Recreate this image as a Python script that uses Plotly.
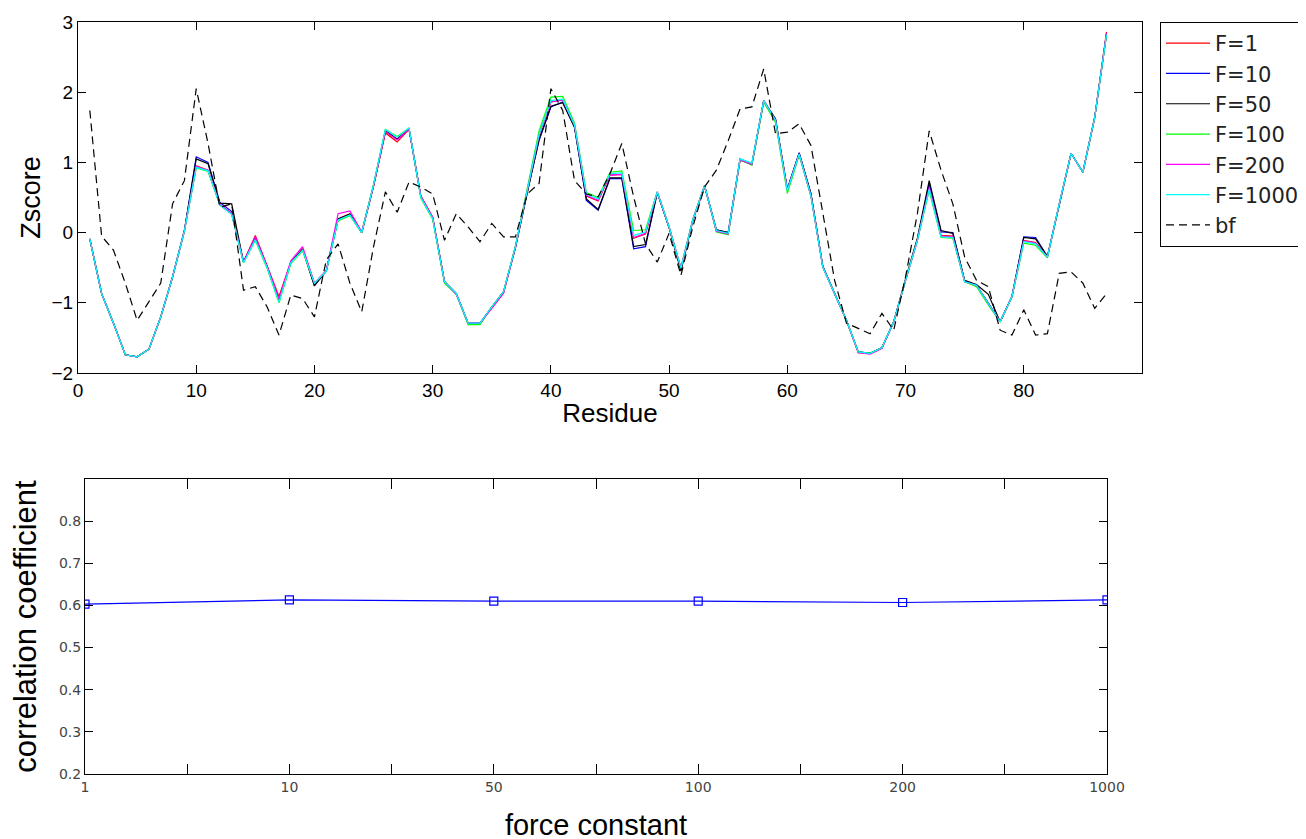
import plotly.graph_objects as go

residues = list(range(1, 88))

f1000 = [-0.09, -0.87, -1.29, -1.74, -1.77, -1.66, -1.20, -0.63, 0.02, 0.93,
         0.88, 0.39, 0.26, -0.43, -0.10, -0.50, -0.99, -0.43, -0.25, -0.72,
         -0.55, 0.18, 0.25, 0.00, 0.68, 1.47, 1.36, 1.49, 0.50, 0.20,
         -0.70, -0.87, -1.29, -1.29, -1.06, -0.84, -0.20, 0.60, 1.40, 1.88,
         1.90, 1.53, 0.55, 0.48, 0.84, 0.85, -0.04, 0.01, 0.58, 0.08,
         -0.51, 0.18, 0.67, 0.03, -0.01, 1.05, 0.99, 1.88, 1.60, 0.60,
         1.12, 0.52, -0.49, -0.87, -1.25, -1.70, -1.72, -1.64, -1.27, -0.68,
         -0.11, 0.62, -0.06, -0.07, -0.70, -0.75, -1.01, -1.27, -0.91, -0.13,
         -0.16, -0.35, 0.41, 1.13, 0.86, 1.64, 2.82]

f1 = [-0.09, -0.87, -1.29, -1.74, -1.77, -1.66, -1.20, -0.63, 0.02, 0.95,
      0.89, 0.40, 0.27, -0.42, -0.04, -0.48, -0.91, -0.42, -0.23, -0.72,
      -0.55, 0.20, 0.27, 0.00, 0.66, 1.42, 1.29, 1.47, 0.52, 0.22,
      -0.70, -0.88, -1.29, -1.29, -1.08, -0.86, -0.20, 0.60, 1.40, 1.86,
      1.89, 1.53, 0.52, 0.45, 0.82, 0.83, -0.08, -0.02, 0.58, 0.08,
      -0.52, 0.18, 0.67, 0.02, -0.02, 1.03, 0.97, 1.88, 1.60, 0.61,
      1.12, 0.52, -0.49, -0.87, -1.25, -1.71, -1.72, -1.64, -1.27, -0.68,
      -0.11, 0.64, -0.04, -0.05, -0.70, -0.75, -1.01, -1.27, -0.91, -0.11,
      -0.14, -0.35, 0.41, 1.13, 0.86, 1.64, 2.86]

f10 = [-0.09, -0.87, -1.29, -1.74, -1.77, -1.66, -1.20, -0.63, 0.03, 1.08,
       1.00, 0.43, 0.30, -0.42, -0.08, -0.49, -0.97, -0.43, -0.24, -0.75,
       -0.55, 0.19, 0.26, 0.00, 0.67, 1.45, 1.33, 1.48, 0.51, 0.21,
       -0.70, -0.87, -1.29, -1.29, -1.06, -0.84, -0.22, 0.58, 1.31, 1.79,
       1.86, 1.50, 0.46, 0.32, 0.77, 0.77, -0.23, -0.20, 0.57, 0.07,
       -0.52, 0.17, 0.66, 0.04, 0.00, 1.05, 0.98, 1.88, 1.62, 0.62,
       1.14, 0.55, -0.48, -0.87, -1.25, -1.70, -1.72, -1.64, -1.27, -0.68,
       -0.10, 0.70, 0.01, 0.00, -0.69, -0.75, -1.00, -1.27, -0.91, -0.06,
       -0.07, -0.34, 0.41, 1.13, 0.86, 1.64, 2.83]

f50 = [-0.09, -0.87, -1.29, -1.74, -1.77, -1.66, -1.20, -0.63, 0.03, 1.05,
       0.98, 0.42, 0.41, -0.42, -0.08, -0.49, -0.97, -0.43, -0.24, -0.76,
       -0.54, 0.19, 0.26, 0.00, 0.67, 1.45, 1.33, 1.48, 0.51, 0.21,
       -0.70, -0.87, -1.30, -1.30, -1.06, -0.84, -0.21, 0.58, 1.33, 1.80,
       1.85, 1.50, 0.48, 0.33, 0.78, 0.78, -0.20, -0.17, 0.57, 0.07,
       -0.55, 0.17, 0.66, 0.04, 0.00, 1.04, 0.97, 1.87, 1.62, 0.62,
       1.13, 0.55, -0.48, -0.87, -1.25, -1.70, -1.72, -1.64, -1.27, -0.66,
       -0.08, 0.74, 0.03, -0.01, -0.68, -0.74, -0.88, -1.27, -0.91, -0.07,
       -0.09, -0.34, 0.41, 1.13, 0.86, 1.64, 2.83]

f100 = [-0.09, -0.87, -1.29, -1.74, -1.77, -1.66, -1.20, -0.63, 0.02, 0.92,
        0.87, 0.39, 0.26, -0.43, -0.11, -0.51, -1.00, -0.44, -0.26, -0.72,
        -0.55, 0.17, 0.24, 0.00, 0.69, 1.47, 1.37, 1.49, 0.49, 0.19,
        -0.72, -0.88, -1.31, -1.31, -1.06, -0.84, -0.19, 0.62, 1.45, 1.93,
        1.94, 1.56, 0.57, 0.50, 0.86, 0.88, 0.03, 0.04, 0.58, 0.08,
        -0.50, 0.19, 0.67, 0.01, -0.03, 1.04, 0.96, 1.86, 1.57, 0.56,
        1.10, 0.52, -0.49, -0.87, -1.25, -1.70, -1.72, -1.64, -1.27, -0.68,
        -0.11, 0.60, -0.07, -0.08, -0.70, -0.77, -1.03, -1.27, -0.92, -0.15,
        -0.18, -0.36, 0.41, 1.13, 0.86, 1.64, 2.82]

f200 = [-0.09, -0.87, -1.29, -1.74, -1.77, -1.66, -1.20, -0.63, 0.02, 0.94,
        0.89, 0.40, 0.27, -0.42, -0.06, -0.48, -0.94, -0.40, -0.20, -0.72,
        -0.54, 0.27, 0.31, 0.01, 0.67, 1.44, 1.32, 1.48, 0.52, 0.22,
        -0.70, -0.88, -1.29, -1.29, -1.08, -0.86, -0.20, 0.60, 1.39, 1.86,
        1.89, 1.53, 0.53, 0.46, 0.82, 0.83, -0.07, -0.01, 0.58, 0.08,
        -0.50, 0.18, 0.67, 0.02, -0.02, 1.04, 0.97, 1.88, 1.60, 0.61,
        1.12, 0.52, -0.49, -0.87, -1.25, -1.71, -1.73, -1.65, -1.27, -0.68,
        -0.11, 0.64, -0.05, -0.06, -0.70, -0.75, -1.01, -1.27, -0.91, -0.12,
        -0.15, -0.35, 0.41, 1.13, 0.86, 1.64, 2.84]

bf = [1.74, -0.05, -0.25, -0.72, -1.25, -0.99, -0.72, 0.41, 0.74, 2.05,
      1.27, 0.36, 0.41, -0.82, -0.77, -1.06, -1.46, -0.89, -0.94, -1.20,
      -0.39, -0.16, -0.72, -1.13, -0.20, 0.58, 0.29, 0.72, 0.65, 0.55,
      -0.11, 0.27, 0.08, -0.13, 0.13, -0.06, -0.06, 0.55, 0.70, 2.05,
      1.74, 0.74, 0.55, 0.51, 0.84, 1.27, 0.51, -0.16, -0.42, -0.01,
      -0.61, 0.08, 0.65, 0.89, 1.31, 1.76, 1.79, 2.33, 1.41, 1.43,
      1.55, 1.24, 0.30, -0.68, -1.29, -1.36, -1.44, -1.15, -1.39, -0.63,
      0.27, 1.45, 0.89, 0.41, -0.35, -0.68, -0.77, -1.39, -1.46, -1.10,
      -1.46, -1.44, -0.58, -0.56, -0.72, -1.08, -0.87]

series_names = ["F=1", "F=10", "F=50", "F=100", "F=200", "F=1000"]
series_colors = ["#ff0000", "#0000ff", "#000000", "#00ff00", "#ff00ff", "#00ffff"]
series_values = [f1, f10, f50, f100, f200, f1000]

force_positions = [1, 3, 5, 7, 9, 11]
force_labels = ["1", "10", "50", "100", "200", "1000"]
corr_values = [0.603, 0.613, 0.610, 0.610, 0.607, 0.613]

FONT = "Liberation Sans, Arial, sans-serif"
WIDE = "DejaVu Sans, sans-serif"
W, H = 1306, 839
OFF = 8  # page body margin offset


def px_x(p):
    return (p - OFF) / W


def px_y(p):
    return 1 - (p - OFF) / H


fig = go.Figure()
for name, col, vals in zip(series_names, series_colors, series_values):
    fig.add_trace(go.Scatter(x=residues, y=vals, mode="lines", name=name,
                             legendgroup=name,
                             line=dict(color=col, width=1.2),
                             xaxis="x", yaxis="y"))
fig.add_trace(go.Scatter(x=residues, y=bf, mode="lines", name="bf", legendgroup="bf",
                         line=dict(color="#000000", width=1.2, dash="8px,5px"),
                         xaxis="x", yaxis="y"))

bottom_ticktext = []
for p in range(1, 12):
    bottom_ticktext.append(force_labels[force_positions.index(p)] if p in force_positions else "")

fig.add_trace(go.Scatter(x=force_positions, y=corr_values, mode="lines+markers",
                         showlegend=False,
                         line=dict(color="#0000ff", width=1.2),
                         marker=dict(symbol="square-open", size=8, color="#0000ff",
                                     line=dict(width=1.2, color="#0000ff")),
                         xaxis="x2", yaxis="y2"))

axis_common = dict(showline=True, linecolor="black", linewidth=1, mirror="ticks",
                   ticks="inside", tickcolor="black", showgrid=False, zeroline=False,
                   automargin=False)

fig.update_layout(
    width=W, height=H,
    margin=dict(l=0, r=0, t=0, b=0, autoexpand=False),
    paper_bgcolor="white", plot_bgcolor="white",
    font=dict(family=FONT, color="black"),
    xaxis=dict(domain=[px_x(78), px_x(1142)], range=[0, 90], anchor="y",
               tickvals=[0, 10, 20, 30, 40, 50, 60, 70, 80], ticklen=8,
               tickfont=dict(size=19, family=FONT, color="black"),
               title=dict(text="Residue", font=dict(size=26, family=FONT), standoff=4),
               **axis_common),
    yaxis=dict(domain=[px_y(373), px_y(22)], range=[-2, 3], anchor="x",
               tickvals=[-2, -1, 0, 1, 2, 3], ticklen=8,
               tickfont=dict(size=19, family=FONT, color="black"),
               title=dict(text="Zscore", font=dict(size=27, family=FONT), standoff=3),
               **axis_common),
    xaxis2=dict(domain=[px_x(85), px_x(1107)], range=[1, 11], anchor="y2",
                tickvals=list(range(1, 12)),
                ticktext=bottom_ticktext,
                ticklen=10,
                tickfont=dict(size=14, family=WIDE, color="#444444"),
                title=dict(text="force constant", font=dict(size=29, family=FONT), standoff=20),
                **axis_common),
    yaxis2=dict(domain=[px_y(774), px_y(479)], range=[0.2, 0.9], anchor="x2",
                tickvals=[0.2, 0.3, 0.4, 0.5, 0.6, 0.7, 0.8],
                ticktext=["0.2", "0.3", "0.4", "0.5", "0.6", "0.7", "0.8"],
                ticklen=8,
                tickfont=dict(size=14, family=WIDE, color="#444444"),
                title=dict(text="correlation coefficient", font=dict(size=31, family=FONT), standoff=16),
                **axis_common),
    legend=dict(x=px_x(1160), y=px_y(22), xanchor="left", yanchor="top",
                bordercolor="black", borderwidth=1, bgcolor="white",
                font=dict(size=21, family=WIDE, color="#222222"),
                itemwidth=44,
                traceorder="grouped", tracegroupgap=0),
)

fig.write_html("out.html")
